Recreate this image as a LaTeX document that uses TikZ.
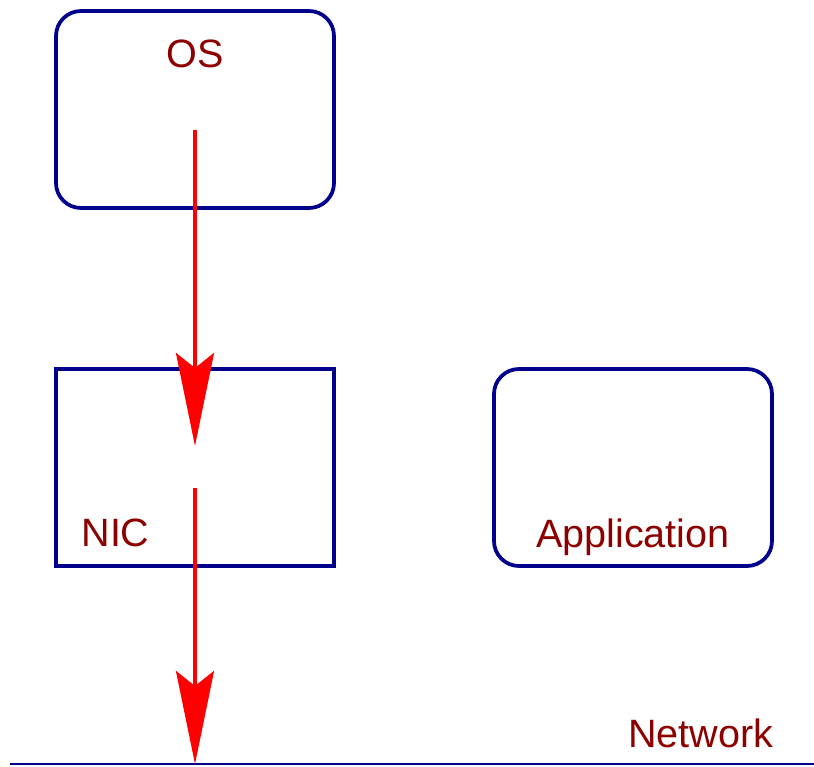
\documentclass[tikz,border=0pt]{standalone}
\usepackage{fontspec}
\setmainfont{Liberation Sans}
\usetikzlibrary{arrows.meta,positioning}
\definecolor{boxblue}{RGB}{0,0,140}
\definecolor{textred}{RGB}{140,0,0}

\begin{document}
\begin{tikzpicture}[
    >={Stealth[length=1.86cm,width=0.76cm,inset=0.3cm]},
    font=\fontsize{22.5}{27}\selectfont,
    box/.style={
		rectangle,
		draw=boxblue,
		line width=0.075cm,
		minimum width=5.56cm,
		minimum height=3.94cm,
		inner sep=0pt
	},
	roundbox/.style={
		box,
		rounded corners=0.5cm
	},
	boxname/.style={
		text=textred,
		anchor=base,
		inner sep=0pt
	},
	flow/.style={
		draw=red,
		line width=0.07cm,
		->
	}
  ]
  \useasboundingbox (0,0) rectangle (16.28,15.32);

    % the blocks
  \node [roundbox] (os) at (3.9,13.13) {};
  \node [box, below of=os, node distance=7.16cm] (nic) {};
  \node [roundbox, right of=nic, node distance=8.76cm] (app) {};

    % their names
  \node [boxname] (oslabel) at (3.9,13.96) {OS};
  \node [boxname] (niclabel) at (2.31,4.4) {NIC};
  \node [boxname] (applabel) at (12.66,4.38) {Application};
  \node [boxname] (netlabel) at (14.01,0.38) {Network};

    % network line
  \coordinate (netleft) at (0.2,0.04);
  \coordinate (netright) at (16.28,0.04);
  \draw [boxblue, line width=0.035cm] (netleft) -- (netright);

    % path of a packet
  \coordinate (osout) at (3.9,12.72);
  \coordinate (nicin) at (3.9,6.4);
  \coordinate (nicout) at (3.9,5.56);
  \coordinate (wire) at (3.9,0.04);
  \draw [flow] (osout) -- (nicin);
  \draw [flow] (nicout) -- (wire);

\end{tikzpicture}
\end{document}
